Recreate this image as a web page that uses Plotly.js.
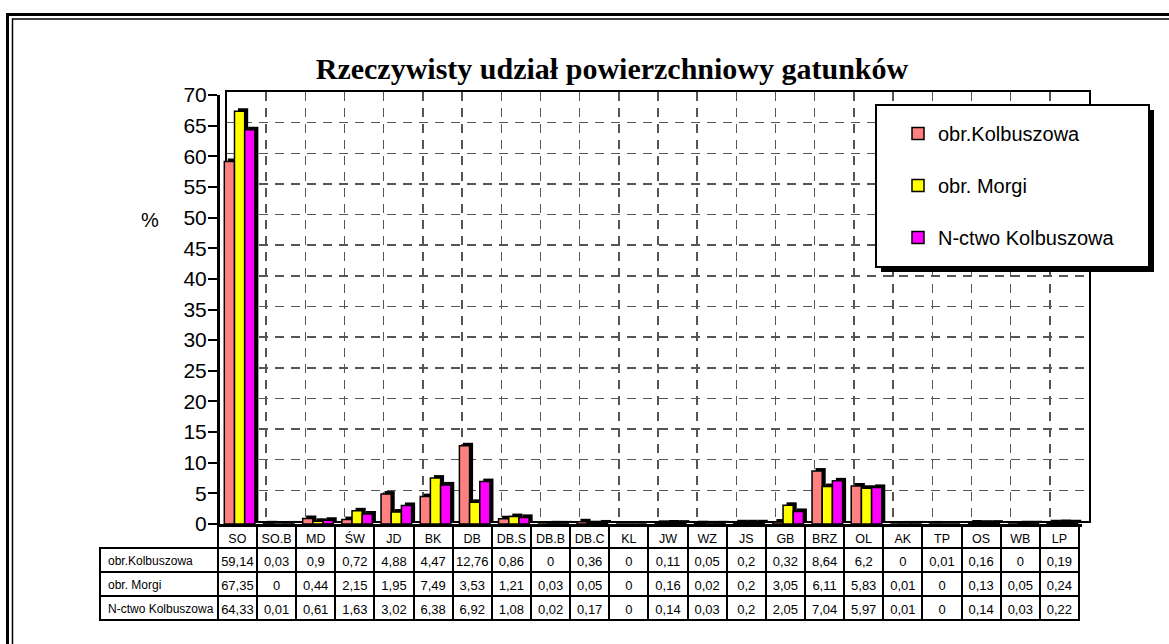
<!DOCTYPE html>
<html>
<head>
<meta charset="utf-8">
<script src="https://cdn.plot.ly/plotly-3.0.1.min.js"></script>
<style>
html,body{margin:0;padding:0;background:#fff;}
#chart{width:1169px;height:644px;}
</style>
</head>
<body>
<div id="chart"></div>
<script>
// ---- data ----
const categories = ["SO","SO.B","MD","ŚW","JD","BK","DB","DB.S","DB.B","DB.C","KL","JW","WZ","JS","GB","BRZ","OL","AK","TP","OS","WB","LP"];
const seriesNames = ["obr.Kolbuszowa","obr. Morgi","N-ctwo Kolbuszowa"];
const kolbuszowa = [59.14,0.03,0.9,0.72,4.88,4.47,12.76,0.86,0,0.36,0,0.11,0.05,0.2,0.32,8.64,6.2,0,0.01,0.16,0,0.19];
const morgi      = [67.35,0,0.44,2.15,1.95,7.49,3.53,1.21,0.03,0.05,0,0.16,0.02,0.2,3.05,6.11,5.83,0.01,0,0.13,0.05,0.24];
const nctwo      = [64.33,0.01,0.61,1.63,3.02,6.38,6.92,1.08,0.02,0.17,0,0.14,0.03,0.2,2.05,7.04,5.97,0.01,0,0.14,0.03,0.22];
const yTicks = [0,5,10,15,20,25,30,35,40,45,50,55,60,65,70];
const titleText = "Rzeczywisty udział powierzchniowy gatunków";

// ---- layout helpers ----
const W = 1169, H = 644;
const px = x => x / W;
const py = y => 1 - y / H;
const colors = ["#FF8080", "#FFFF00", "#FF00FF"];
const allSeries = [kolbuszowa, morgi, nctwo];
const catRange = [-0.5, categories.length - 0.5];

const traces = [];
// invisible trace so the back-wall subplot is built
traces.push({
  type: "scatter", mode: "lines", x: categories, y: categories.map(() => null),
  xaxis: "x", yaxis: "y", showlegend: false, hoverinfo: "skip"
});
// shadow (depth) bars
allSeries.forEach((s) => {
  traces.push({
    type: "bar", x: categories, y: s, xaxis: "x2", yaxis: "y2",
    marker: {color: "#000", line: {width: 0}},
    showlegend: false, hoverinfo: "skip"
  });
});
// front bars
allSeries.forEach((s, i) => {
  traces.push({
    type: "bar", x: categories, y: s, xaxis: "x3", yaxis: "y3",
    name: seriesNames[i], legendgroup: "g" + i,
    marker: {color: colors[i], line: {color: "#000", width: 1.5}}
  });
});
// data table
const fmt = v => String(v).replace(".", ",");
const nb = t => t.replace(/ /g, "\u00a0").replace(/-/g, "\u2011");
const cellCols = [seriesNames.map(nb)].concat(categories.map((c, j) => allSeries.map(s => fmt(s[j]))));
const headerVals = [""].concat(categories);
traces.push({
  type: "table",
  domain: {x: [px(100), px(1080)], y: [py(630), py(526)]},
  columnwidth: [118].concat(categories.map(() => 39.2)),
  header: {
    values: headerVals,
    height: 22,
    align: "center",
    fill: {color: headerVals.map((v, i) => i === 0 ? "rgba(0,0,0,0)" : "#fff")},
    line: {color: headerVals.map((v, i) => i === 0 ? "rgba(0,0,0,0)" : "#000"),
           width: headerVals.map((v, i) => i === 0 ? 0 : 2)},
    font: {family: "Liberation Sans, Arial, sans-serif", size: 12.5, color: "#000"}
  },
  cells: {
    values: cellCols,
    height: 24,
    align: cellCols.map((c, i) => i === 0 ? "left" : "center"),
    fill: {color: "#fff"},
    line: {color: "#000", width: 2},
    font: {family: "Liberation Sans, Arial, sans-serif",
           size: cellCols.map((c, i) => i === 0 ? 12 : 13), color: "#000"}
  }
});

const gridStyle = {showgrid: true, gridcolor: "#555", gridwidth: 1.5, griddash: "9px,7px"};

const layout = {
  width: W, height: H,
  margin: {l: 0, r: 0, t: 0, b: 0},
  paper_bgcolor: "#fff",
  plot_bgcolor: "rgba(0,0,0,0)",
  barmode: "group", bargap: 0.22, bargroupgap: 0,
  showlegend: true,
  font: {family: "Liberation Sans, Arial, sans-serif", color: "#000"},
  title: {
    text: titleText,
    x: px(612), xref: "paper", xanchor: "center",
    y: 1 - 68 / H, yref: "container", yanchor: "middle",
    font: {family: "Liberation Serif, Times New Roman, serif", size: 30, weight: 700, color: "#000"}
  },
  // back wall
  xaxis: Object.assign({
    domain: [px(227), px(1089)], anchor: "y", type: "category",
    categoryorder: "array", categoryarray: categories, range: catRange, tickson: "boundaries",
    showticklabels: false, ticks: "", showline: true, mirror: true,
    linecolor: "#000", linewidth: 2, zeroline: false, fixedrange: true
  }, gridStyle),
  yaxis: Object.assign({
    domain: [py(521), py(92)], anchor: "x", range: [0, 70], tickvals: yTicks,
    showticklabels: false, ticks: "", showline: true, mirror: true,
    linecolor: "#000", linewidth: 2, zeroline: false, fixedrange: true
  }, gridStyle),
  // depth shadow
  xaxis2: {
    domain: [px(223.5), px(1085.5)], anchor: "y2", type: "category",
    categoryorder: "array", categoryarray: categories, range: catRange, visible: false, fixedrange: true
  },
  yaxis2: {
    domain: [py(521), py(92)], anchor: "x2", range: [0, 70], visible: false, fixedrange: true
  },
  // front
  xaxis3: {
    domain: [px(220), px(1082)], anchor: "y3", type: "category",
    categoryorder: "array", categoryarray: categories, range: catRange, showgrid: false,
    showticklabels: false, ticks: "", showline: true, linecolor: "#000", linewidth: 3,
    zeroline: false, fixedrange: true
  },
  yaxis3: {
    domain: [py(524), py(95)], anchor: "x3", range: [0, 70], tickvals: yTicks,
    showgrid: false, zeroline: false, showline: true, linecolor: "#000", linewidth: 3,
    ticks: "outside", ticklen: 9, tickwidth: 2, tickcolor: "#000", ticklabelstandoff: -3,
    tickfont: {family: "Liberation Sans, Arial, sans-serif", size: 21, color: "#000"},
    fixedrange: true
  },
  legend: {
    x: px(898), xanchor: "left", y: py(114), yanchor: "top",
    bgcolor: "rgba(0,0,0,0)", borderwidth: 0,
    tracegroupgap: 23,
    font: {family: "Liberation Sans, Arial, sans-serif", size: 20, color: "#000"}
  },
  annotations: [{
    text: "%", xref: "paper", yref: "paper", x: px(150), y: py(220),
    xanchor: "center", yanchor: "middle", showarrow: false,
    font: {family: "Liberation Sans, Arial, sans-serif", size: 20, color: "#000"}
  }],
  shapes: [
    // outer double frame
    {type: "rect", xref: "paper", yref: "paper", x0: px(7.5), y0: py(14.5), x1: px(1300), y1: py(760),
     line: {color: "#000", width: 3}, fillcolor: "rgba(0,0,0,0)", layer: "below"},
    {type: "rect", xref: "paper", yref: "paper", x0: px(12.5), y0: py(19), x1: px(1300), y1: py(760),
     line: {color: "#000", width: 1.5}, fillcolor: "rgba(0,0,0,0)", layer: "below"},
    // legend shadow and box
    {type: "rect", xref: "paper", yref: "paper", x0: px(881), y0: py(110), x1: px(1154), y1: py(272),
     line: {width: 0}, fillcolor: "#000", layer: "above"},
    {type: "rect", xref: "paper", yref: "paper", x0: px(876), y0: py(105), x1: px(1149), y1: py(267),
     line: {color: "#000", width: 2}, fillcolor: "#fff", layer: "above"}
  ]
};

Plotly.newPlot("chart", traces, layout, {displayModeBar: false, staticPlot: true});
</script>
</body>
</html>
